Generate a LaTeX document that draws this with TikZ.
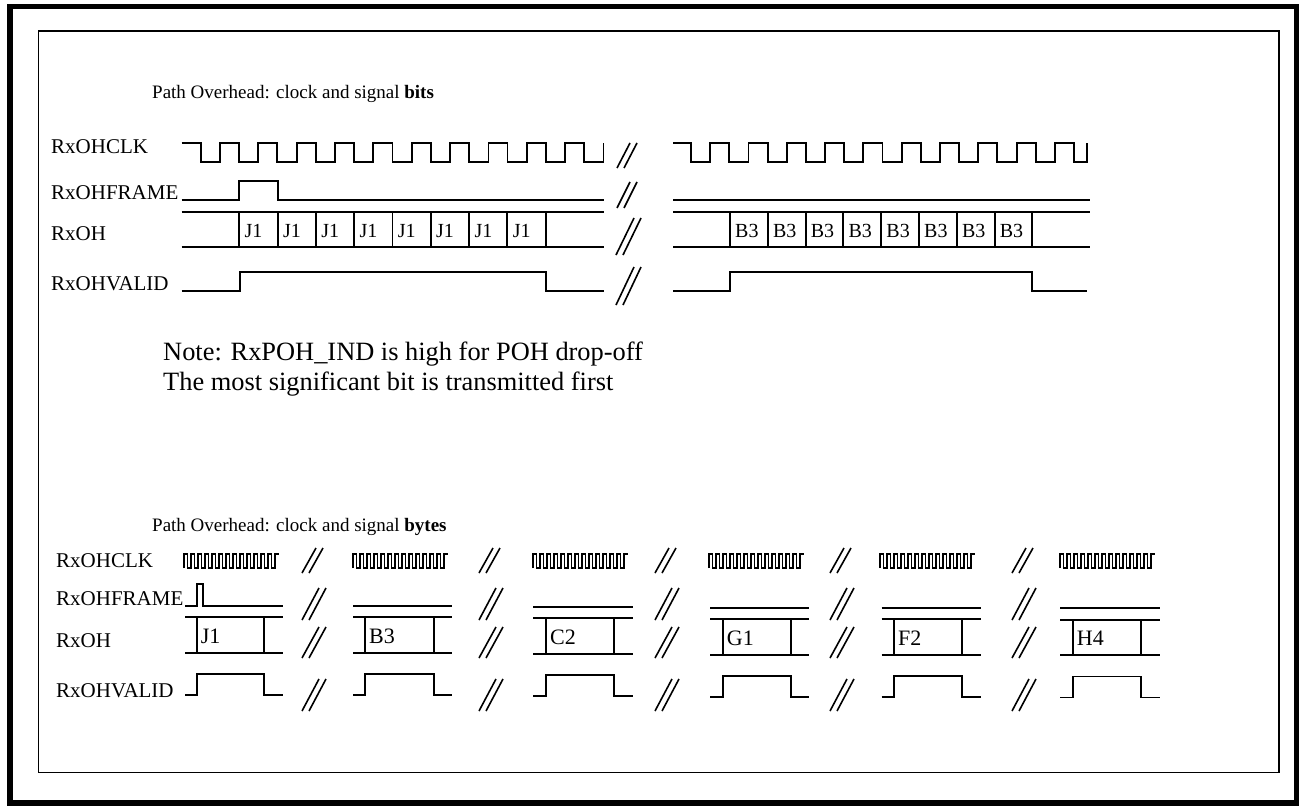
\documentclass[tikz,border=0pt]{standalone}
\usepackage{fontspec}
\setmainfont{Liberation Serif}
\newcommand{\slashpair}[4]{%
  \draw[brk] (#1,#3) -- ({#1+#4},#2) ({#1+7},#3) -- ({#1+7+#4},#2);}
\begin{document}
\begin{tikzpicture}[x=1pt,y=-1pt]
\tikzset{
  sig/.style={line width=1.9, line join=miter},
  brk/.style={line width=1.6},
  lab/.style={anchor=base west, inner sep=0, font=\fontsize{21}{24}\selectfont},
  ttl/.style={anchor=base west, inner sep=0, font=\fontsize{19}{22}\selectfont},
  notetext/.style={anchor=base west, inner sep=0, font=\fontsize{26.4}{30}\selectfont},
  cell/.style={anchor=base west, inner sep=0, font=\fontsize{20}{22}\selectfont},
  cellb/.style={anchor=base west, inner sep=0, font=\fontsize{22}{24}\selectfont},
}
\useasboundingbox (0,0) rectangle (1301,806);
\draw[line width=5.5] (10,6.5) rectangle (1296.5,803);
\draw[line width=1.8] (38.5,31) rectangle (1279,772.5);

% titles and notes
\node[ttl] (t1) at (152,98) {Path Overhead: clock and signal \textbf{bits}};
\node[ttl] (t2) at (152,531) {Path Overhead: clock and signal \textbf{bytes}};
\node[notetext] (n1) at (163,360.5) {Note: RxPOH\_IND is high for POH drop-off};
\node[notetext] (n2) at (163,390) {The most significant bit is transmitted first};

% ---------- bits section ----------
\node[lab] (c1) at (51,153) {RxOHCLK};
\node[lab] (f1) at (51,199) {RxOHFRAME};
\node[lab] (d1) at (51,240) {RxOH};
\node[lab] (v1) at (51,290) {RxOHVALID};

% clock
\draw[sig] (181.7,142.7) foreach \k in {0,...,10}{ -- ({200.7+38.35*\k},142.7) -- ++(0,19.6) -- ++(19.3,0) -- ++(0,-19.6)};
\draw[sig] (673.3,142.7) foreach \k in {0,...,9}{ -- ({691+38.3*\k},142.7) -- ++(0,19.6) -- ++(19.2,0) -- ++(0,-19.6)} -- (1074,142.7) -- (1074,162.3) -- (1086.7,162.3) -- (1086.7,142.7);
% frame
\draw[sig] (181.7,200) -- (239.3,200) -- (239.3,181) -- (277.7,181) -- (277.7,200) -- (604,200);
\draw[sig] (673.3,200) -- (1090,200);
% data
\draw[sig] (181.7,211.7) -- (604,211.7) (181.7,246.7) -- (604,246.7);
\foreach \k in {0,...,8} \draw[sig] ({239.3+38.3*\k},211.7) -- ++(0,35);
\foreach \k in {0,...,7} \node[cell] (j\k) at ({244.5+38.3*\k},237) {J1};
\draw[sig] (673.3,211.7) -- (1090,211.7) (673.3,246.7) -- (1090,246.7);
\foreach \k in {0,...,8} \draw[sig] ({730+37.8*\k},211.7) -- ++(0,35);
\foreach \k in {0,...,7} \node[cell] (bb\k) at ({735+37.8*\k},237) {B3};
% valid
\draw[sig] (181.7,291) -- (240,291) -- (240,271.7) -- (545.7,271.7) -- (545.7,291) -- (604,291);
\draw[sig] (673.3,291) -- (730,291) -- (730,271.7) -- (1032.4,271.7) -- (1032.4,291) -- (1087,291);
% breaks
\slashpair{617}{143}{168}{13}
\slashpair{617}{182}{208}{13}
\slashpair{616}{218}{255}{18}
\slashpair{616}{267}{305}{18}

% ---------- bytes section ----------
\node[lab] (c2) at (56,567) {RxOHCLK};
\node[lab] (f2) at (56,605) {RxOHFRAME};
\node[lab] (d2) at (56,647) {RxOH};
\node[lab] (v2) at (56,697) {RxOHVALID};

\foreach \xs/\xc/\xa/\xb/\xe/\dy/\txt/\i in {185/184/196.7/264/283.3/0/J1/1, 353/353/365/434/452/0/B3/2, 533/533/546/614.3/632.7/1/C2/3, 710/709/722.7/790.7/809/2/G1/4, 881.7/880/894/961.7/980.7/2/F2/5, 1060/1060/1072.7/1141/1159.5/2.5/H4/6}{
  \draw[sig] (\xc,568) foreach \k in {0,...,12}{ -- ({\xc+7*\k},554) -- ++(3.5,0) -- ++(0,14) -- ++(3.5,0)} -- ++(0,-14) -- ++(4,0);
  \draw[sig] (\xs,{617.3+\dy}) -- (\xe,{617.3+\dy}) (\xs,{652.7+\dy}) -- (\xe,{652.7+\dy})
             (\xa,{617.3+\dy}) -- (\xa,{652.7+\dy}) (\xb,{617.3+\dy}) -- (\xb,{652.7+\dy});
  \node[cellb] (b\i) at ({\xa+4},{643+\dy}) {\txt};
  \draw[sig] (\xs,{695+\dy}) -- (\xa,{695+\dy}) -- (\xa,{674+\dy}) -- (\xb,{674+\dy}) -- (\xb,{695+\dy}) -- (\xe,{695+\dy});
}
\draw[sig] (185,605.7) -- (196.7,605.7) -- (196.7,584) -- (203.3,584) -- (203.3,605.7) -- (283.3,605.7);
\foreach \xs/\xe/\dy in {353/452/0, 533/632.7/1, 710/809/2, 881.7/980.7/2, 1060/1159.5/2}
  \draw[sig] (\xs,{605.7+\dy}) -- (\xe,{605.7+\dy});

\foreach \xb in {302,479,655,830,1012}{
  \slashpair{\xb}{548}{573}{14}
  \slashpair{\xb}{588}{620}{17}
  \slashpair{\xb}{627}{658}{17}
  \slashpair{\xb}{679}{711}{17}
}
\end{tikzpicture}
\end{document}
